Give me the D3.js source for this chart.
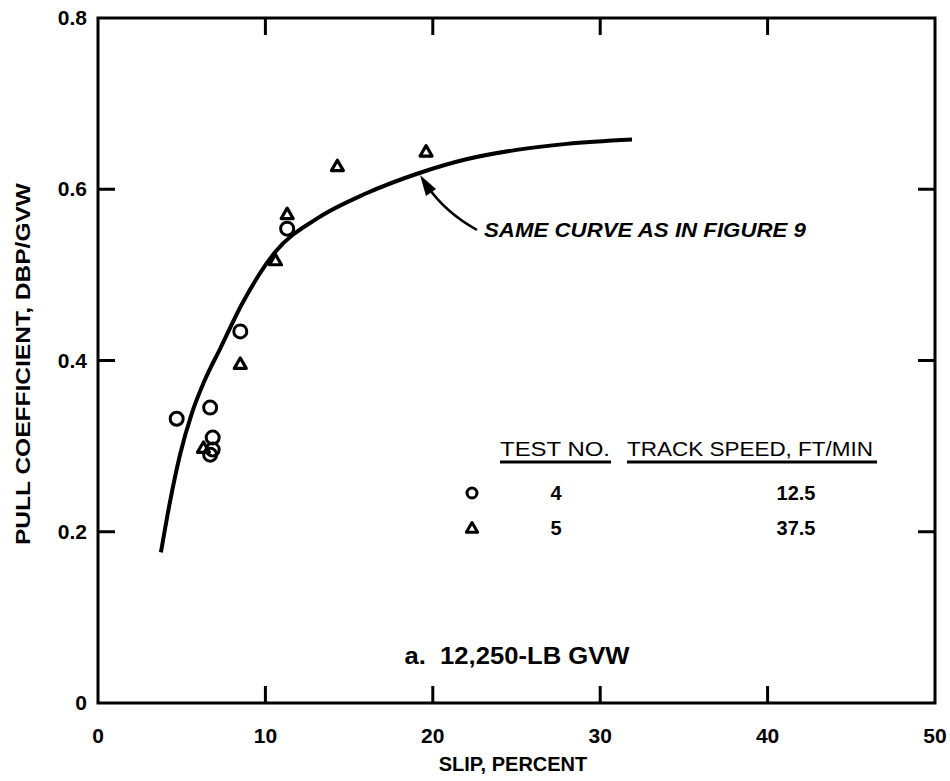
<!DOCTYPE html>
<html>
<head>
  <meta charset="UTF-8">
  <title>Pull coefficient vs slip</title>
  <style>
    body { margin: 0; background: #fff; }
    text { font-family: "Liberation Sans", Arial, sans-serif; font-weight: bold; fill: #000; white-space: pre; }
  </style>
</head>
<body>
<svg></svg>
<script src="https://d3js.org/d3.v7.min.js"></script>
<script>
    let width = 950, height = 781;

    // data
    var test4 = [[4.7, 0.332], [6.7, 0.345], [6.85, 0.31], [6.7, 0.29], [6.85, 0.296], [8.5, 0.434], [11.3, 0.554]];
    var test5 = [[6.3, 0.298], [8.5, 0.396], [10.6, 0.517], [11.3, 0.571], [14.3, 0.627], [19.6, 0.644]];
    var curve = [[3.76, 0.176], [4.3, 0.235], [4.9, 0.29], [5.6, 0.338], [6.4, 0.378], [7.3, 0.414],
                 [8.6, 0.466], [10.6, 0.527], [13.1, 0.566], [16.0, 0.595], [19.2, 0.619],
                 [22, 0.635], [25, 0.646], [28, 0.653], [31.9, 0.658]];
    var xTicks = [0, 10, 20, 30, 40, 50];
    var yTicks = [0, 0.2, 0.4, 0.6, 0.8];
    var legendRows = [["circle", "4", "12.5"], ["triangle", "5", "37.5"]];

    let svg = d3.select("svg")
        .attr("width", width)
        .attr("height", height);

    let x = d3.scaleLinear().domain([0, 50]).range([98, 935]);
    let y = d3.scaleLinear().domain([0, 0.8]).range([703, 18]);

    // frame
    svg.append("rect")
        .attr("x", x(0)).attr("y", y(0.8))
        .attr("width", x(50) - x(0)).attr("height", y(0) - y(0.8))
        .attr("fill", "none").attr("stroke", "#000").attr("stroke-width", 3);

    // inward ticks on all four sides (skip the corners)
    let tickLen = 17;
    let innerX = xTicks.slice(1, -1), innerY = yTicks.slice(1, -1);
    let tickPath = "";
    innerX.forEach(function(d) {
        tickPath += "M" + x(d) + "," + y(0) + "v" + (-tickLen);
        tickPath += "M" + x(d) + "," + y(0.8) + "v" + tickLen;
    });
    innerY.forEach(function(d) {
        tickPath += "M" + x(0) + "," + y(d) + "h" + tickLen;
        tickPath += "M" + x(50) + "," + y(d) + "h" + (-tickLen);
    });
    svg.append("path")
        .attr("d", tickPath)
        .attr("fill", "none")
        .attr("stroke", "#000")
        .attr("stroke-width", 3);

    // tick labels
    svg.append("g").selectAll("text")
        .data(xTicks).enter().append("text")
        .attr("x", d => x(d)).attr("y", 743)
        .attr("text-anchor", "middle")
        .style("font-size", "21px")
        .text(d => d);
    svg.append("g").selectAll("text")
        .data(yTicks).enter().append("text")
        .attr("x", 87).attr("y", d => y(d) + 7)
        .attr("text-anchor", "end")
        .style("font-size", "21px")
        .text(d => d === 0 ? "0" : d.toFixed(1));

    // axis titles
    svg.append("text")
        .attr("x", 513).attr("y", 771)
        .attr("text-anchor", "middle")
        .style("font-size", "20px")
        .text("SLIP, PERCENT");
    svg.append("text")
        .attr("transform", "translate(30,364) rotate(-90)")
        .attr("text-anchor", "middle")
        .attr("textLength", 362).attr("lengthAdjust", "spacingAndGlyphs")
        .style("font-size", "21px")
        .text("PULL COEFFICIENT, DBP/GVW");

    // panel title
    svg.append("text")
        .attr("x", 517).attr("y", 664)
        .attr("text-anchor", "middle")
        .attr("textLength", 225).attr("lengthAdjust", "spacingAndGlyphs")
        .style("font-size", "23px")
        .text("a.  12,250-LB GVW");

    // fitted curve
    let line = d3.line().x(d => x(d[0])).y(d => y(d[1])).curve(d3.curveMonotoneX);
    svg.append("path")
        .datum(curve)
        .attr("d", line)
        .attr("fill", "none").attr("stroke", "#000").attr("stroke-width", 4);

    // markers
    let tri = d3.symbol().type(d3.symbolTriangle).size(62);
    svg.append("g").selectAll("circle")
        .data(test4).enter().append("circle")
        .attr("cx", d => x(d[0])).attr("cy", d => y(d[1]))
        .attr("r", 6.5)
        .attr("fill", "none").attr("stroke", "#000").attr("stroke-width", 3);
    svg.append("g").selectAll("path")
        .data(test5).enter().append("path")
        .attr("d", tri)
        .attr("transform", d => "translate(" + x(d[0]) + "," + (y(d[1]) + 1) + ")")
        .attr("fill", "none").attr("stroke", "#000").attr("stroke-width", 3.2)
        .attr("stroke-linejoin", "round");

    // annotation arrow
    svg.append("path")
        .attr("d", "M477,230 Q445,212 428,187")
        .attr("fill", "none").attr("stroke", "#000").attr("stroke-width", 2.5);
    svg.append("path")
        .attr("d", "M420,175 L436,189 L426,196 Z")
        .attr("fill", "#000");
    svg.append("text")
        .attr("x", 484).attr("y", 237)
        .attr("textLength", 322).attr("lengthAdjust", "spacingAndGlyphs")
        .style("font-size", "21px").style("font-style", "italic")
        .text("SAME CURVE AS IN FIGURE 9");

    // legend
    svg.append("text").attr("x", 500).attr("y", 456)
        .attr("textLength", 110).attr("lengthAdjust", "spacingAndGlyphs")
        .style("font-size", "21px").style("font-weight", "normal")
        .text("TEST NO.");
    svg.append("text").attr("x", 627).attr("y", 456)
        .attr("textLength", 246).attr("lengthAdjust", "spacingAndGlyphs")
        .style("font-size", "21px").style("font-weight", "normal")
        .text("TRACK SPEED, FT/MIN");
    svg.append("line").attr("x1", 500).attr("x2", 611).attr("y1", 462).attr("y2", 462)
        .attr("stroke", "#000").attr("stroke-width", 3);
    svg.append("line").attr("x1", 627).attr("x2", 877).attr("y1", 462).attr("y2", 462)
        .attr("stroke", "#000").attr("stroke-width", 3);

    let rows = svg.append("g").selectAll("g")
        .data(legendRows).enter().append("g")
        .attr("transform", (d, i) => "translate(0," + (493 + i * 35) + ")");
    rows.filter(d => d[0] === "circle").append("circle")
        .attr("cx", 472).attr("cy", 0).attr("r", 5)
        .attr("fill", "none").attr("stroke", "#000").attr("stroke-width", 3);
    rows.filter(d => d[0] === "triangle").append("path")
        .attr("d", d3.symbol().type(d3.symbolTriangle).size(55))
        .attr("transform", "translate(472,1)")
        .attr("fill", "none").attr("stroke", "#000").attr("stroke-width", 3)
        .attr("stroke-linejoin", "round");
    rows.append("text").attr("x", 556).attr("y", 7).attr("text-anchor", "middle")
        .style("font-size", "20px").text(d => d[1]);
    rows.append("text").attr("x", 796).attr("y", 7).attr("text-anchor", "middle")
        .style("font-size", "20px").text(d => d[2]);
</script>
</body>
</html>
